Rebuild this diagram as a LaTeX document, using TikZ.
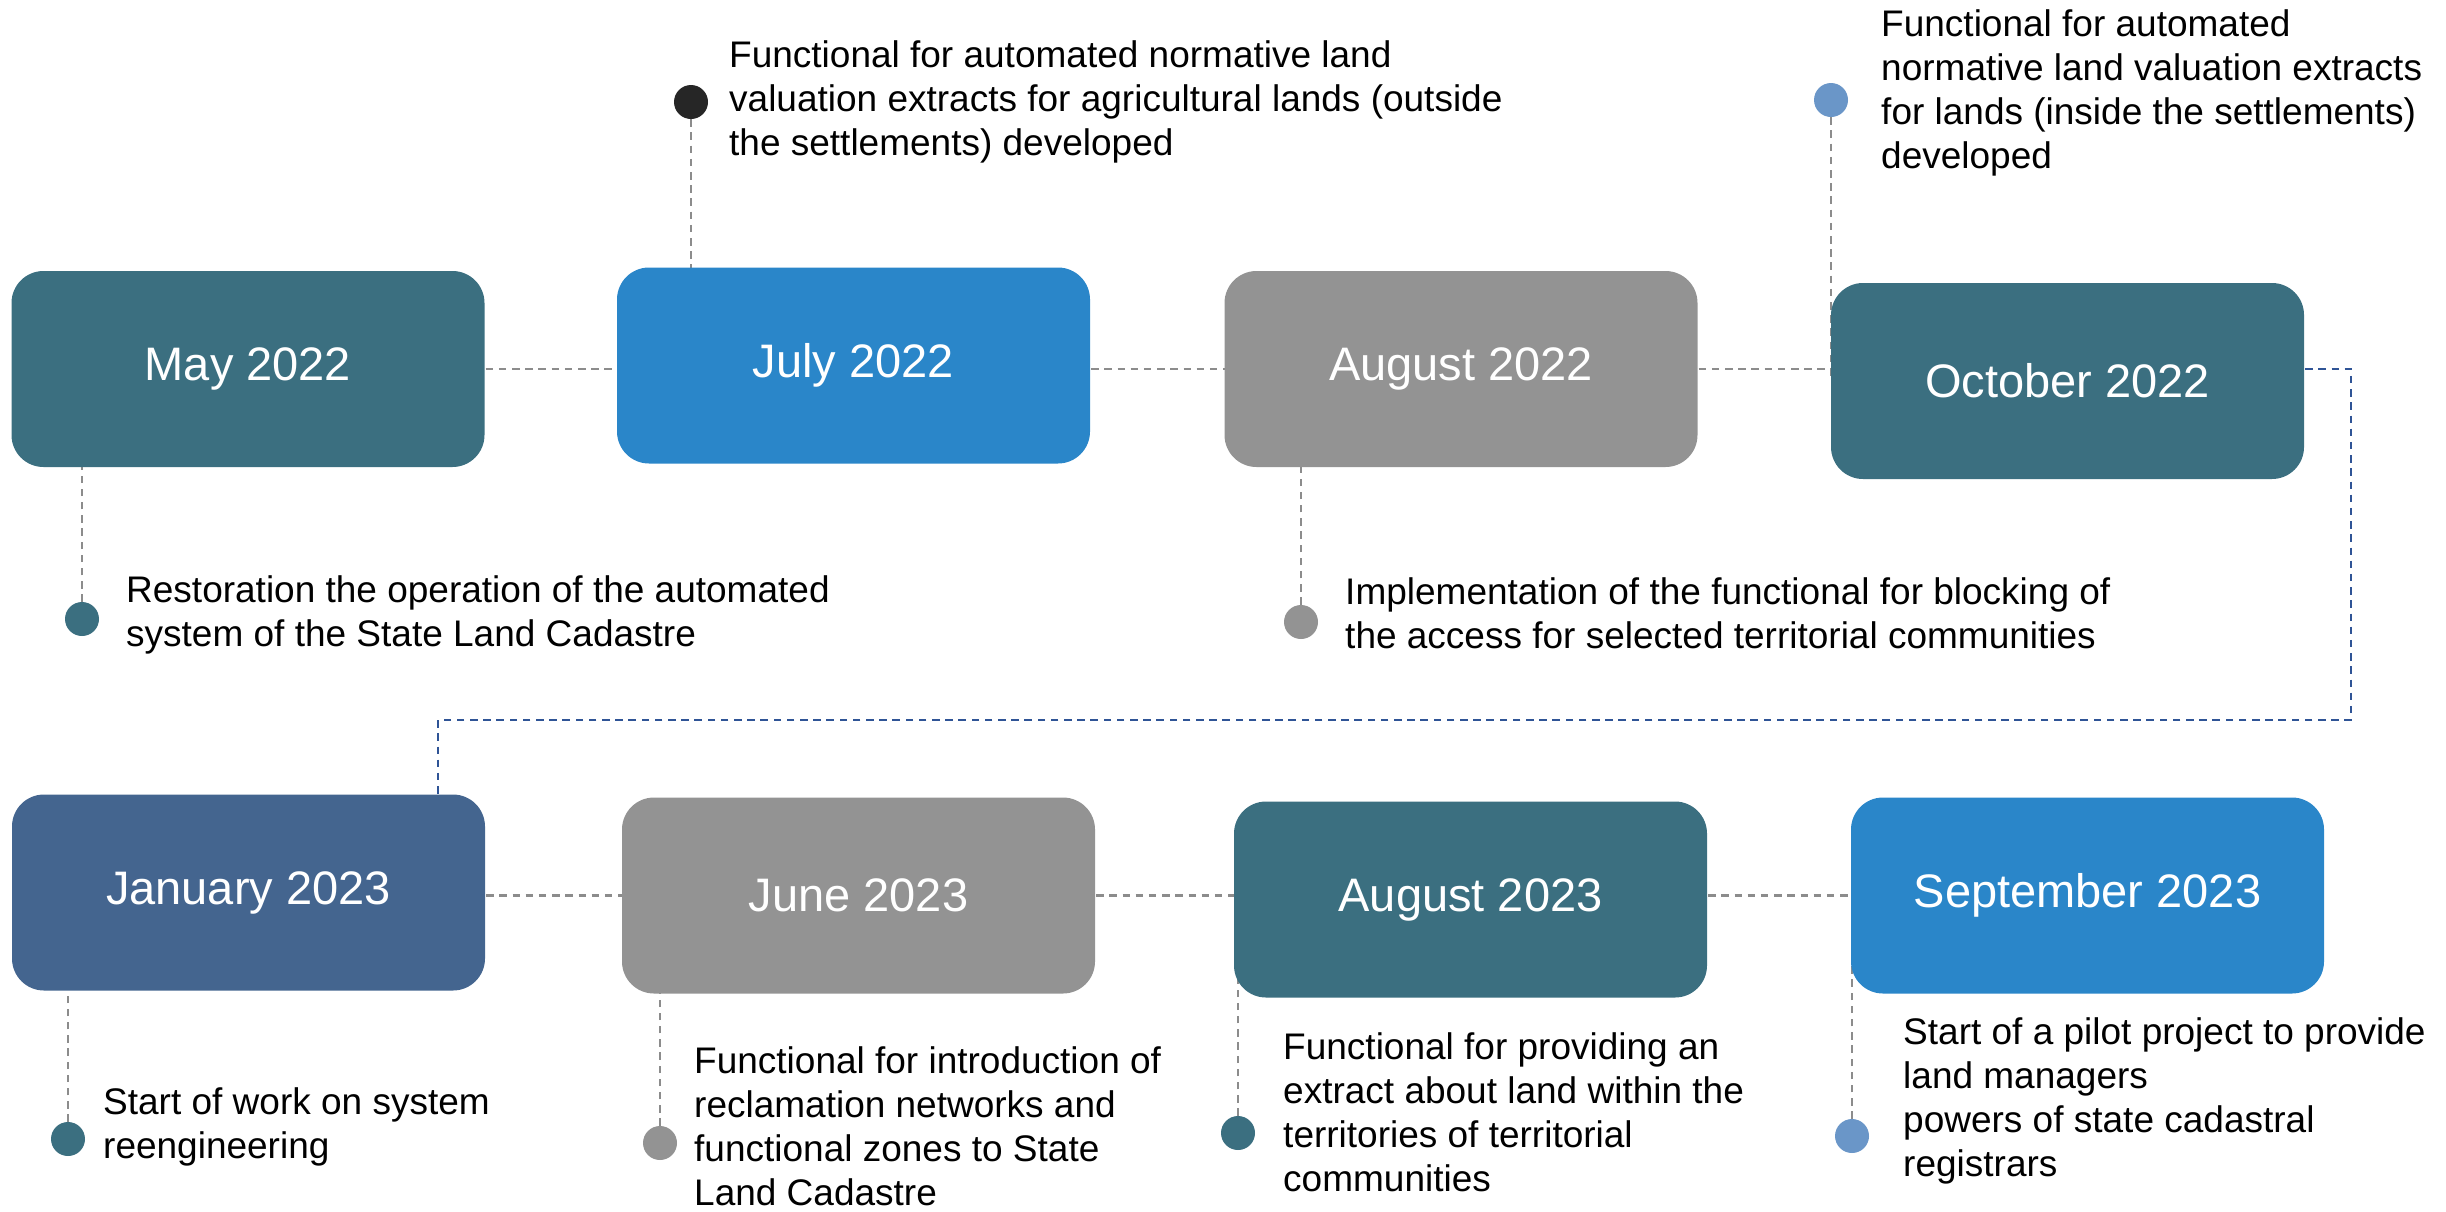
\documentclass[tikz,border=0pt]{standalone}
\usepackage{fontspec}
\setmainfont{Liberation Sans}
\definecolor{teal}{HTML}{3B6F80}
\definecolor{bbox}{HTML}{2A86C9}
\definecolor{gbox}{HTML}{939393}
\definecolor{sbox}{HTML}{44658F}
\definecolor{dkdot}{HTML}{262626}
\definecolor{lbdot}{HTML}{6A96C8}
\definecolor{conn}{HTML}{8C8C8C}
\definecolor{bline}{HTML}{2F5496}
\pgfdeclarelayer{bg}
\pgfsetlayers{bg,main}
\tikzset{
  datebox/.style={rectangle, rounded corners=32pt, minimum width=473pt, minimum height=196pt,
    inner sep=0pt, text=white, font=\fontsize{47}{56}\selectfont},
  dotnode/.style={circle, minimum size=34pt, inner sep=0pt},
  desc/.style={anchor=base west, align=left, inner sep=0pt, font=\fontsize{37}{44}\selectfont},
  connline/.style={draw=conn, line width=2.6pt, dash pattern=on 7.5pt off 5.7pt},
  blueconn/.style={draw=bline, line width=2.4pt, dash pattern=on 7.5pt off 5.7pt}
}
\begin{document}
\begin{tikzpicture}[x=1pt,y=-1pt]
\useasboundingbox (0,0) rectangle (2446,1211);
% boxes row 1
\node[datebox, fill=teal] (may) at (248,369) {May 2022};
\node[datebox, fill=bbox] (jul) at (853.5,365.5) {July 2022};
\node[datebox, fill=gbox] (aug) at (1461,369) {August 2022};
\node[datebox, fill=teal] (oct) at (2067.5,381) {October 2022};
% boxes row 2
\node[datebox, fill=sbox] (jan) at (248.5,892.5) {January 2023};
\node[datebox, fill=gbox] (jun) at (858.5,895.5) {June 2023};
\node[datebox, fill=teal] (augt) at (1470.5,899.5) {August 2023};
\node[datebox, fill=bbox] (sep) at (2087.5,895.5) {September 2023};
% dots
\node[dotnode, fill=teal] (dmay) at (82,619) {};
\node[dotnode, fill=dkdot] (djul) at (691,102) {};
\node[dotnode, fill=gbox] (daug) at (1301,622) {};
\node[dotnode, fill=lbdot] (doct) at (1831,100) {};
\node[dotnode, fill=teal] (djan) at (68,1139) {};
\node[dotnode, fill=gbox] (djun) at (660,1143) {};
\node[dotnode, fill=teal] (daugt) at (1238,1133) {};
\node[dotnode, fill=lbdot] (dsep) at (1852,1136) {};
% texts (anchored at the baseline of the last line)
\node[desc] (tmay) at (126,646) {Restoration the operation of the automated\\system of the State Land Cadastre};
\node[desc] (tjul) at (729,155) {Functional for automated normative land\\valuation extracts for agricultural lands (outside\\the settlements) developed};
\node[desc] (taug) at (1345,648) {Implementation of the functional for blocking of\\the access for selected territorial communities};
\node[desc] (toct) at (1881,168) {Functional for automated\\normative land valuation extracts\\for lands (inside the settlements)\\developed};
\node[desc] (tjan) at (103,1158) {Start of work on system\\reengineering};
\node[desc] (tjun) at (694,1205) {Functional for introduction of\\reclamation networks and\\functional zones to State\\Land Cadastre};
\node[desc] (taugt) at (1283,1191) {Functional for providing an\\extract about land within the\\territories of territorial\\communities};
\node[desc] (tsep) at (1903,1176) {Start of a pilot project to provide\\land managers\\powers of state cadastral\\registrars};
% connectors behind
\coordinate (b1) at (2351,720);
\coordinate (b2) at (438,720);
\begin{pgfonlayer}{bg}
\draw[connline] (may.center) -- (may.center -| jul.center);
\draw[connline] (aug.center -| jul.center) -- (aug.center);
\draw[connline] (aug.center) -- (aug.center -| oct.center);
\draw[connline] (jun.center -| jan.center) -- (jun.center);
\draw[connline] (jun.center) -- (jun.center -| augt.center);
\draw[connline] (sep.center -| augt.center) -- (sep.center);
\draw[blueconn] (oct.center |- aug.center) -- (b1 |- aug.center) -- (b1) -- (b2) -- (b2 |- jan.center);
\draw[connline] (dmay) -- (dmay |- may.center);
\draw[connline] (djul) -- (djul |- jul.center);
\draw[connline] (daug) -- (daug |- aug.center);
\draw[connline] (doct) -- (doct |- oct.center);
\draw[connline] (djan) -- (djan |- jan.center);
\draw[connline] (djun) -- (djun |- jun.center);
\draw[connline] (daugt) -- (daugt |- augt.center);
\draw[connline] (dsep) -- (dsep |- sep.center);
\end{pgfonlayer}
\end{tikzpicture}
\end{document}
